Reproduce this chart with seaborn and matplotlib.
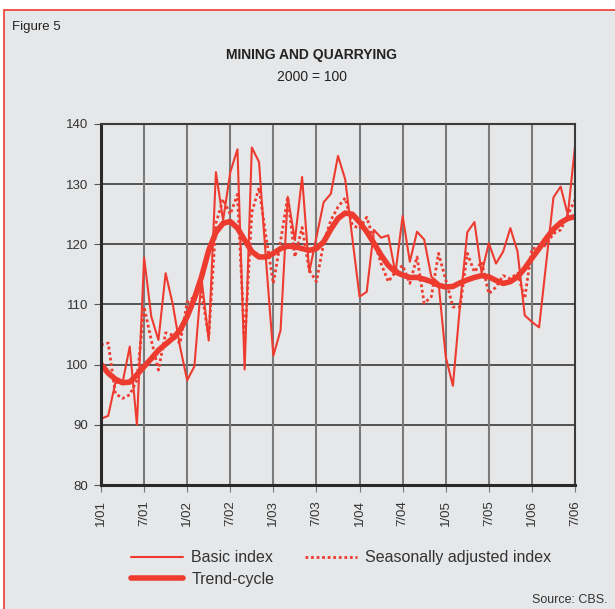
import numpy as np
import pandas as pd
import seaborn as sns
import matplotlib.pyplot as plt
from matplotlib.patches import Rectangle

# monthly values, 1/01 .. 7/06
basic_index = [91, 91.5, 97, 97, 103, 90, 117.8, 108, 104.1, 115.2, 110, 103,
               97.4, 99.7, 114.3, 104, 132, 124, 132, 135.8, 99.2, 136.1, 133.7, 117,
               101.5, 105.7, 127.9, 120.7, 131.2, 115.4, 121.2, 127, 128.4, 134.7, 130.8, 121,
               111.3, 112.1, 122.4, 121.1, 121.5, 115.2, 124.7, 117.1, 122.1, 120.8, 114.6, 113.6,
               101.3, 96.5, 110, 122, 123.7, 115.2, 120.2, 116.8, 118.8, 122.7, 118.8, 108.2,
               107.1, 106.2, 117, 127.8, 129.6, 124.9, 136.3]
seas_adj = [103.3, 103.6, 95.2, 94.4, 95, 97.4, 109.6, 104.1, 99.1, 105.3, 104.9, 103.5,
            110.4, 111.3, 112.1, 104.6, 123.5, 127.5, 125, 128.3, 103.5, 125.3, 129.4, 121,
            113.5, 120.5, 127.9, 117.9, 122.8, 115.7, 113.8, 120.2, 124, 126.2, 127.7, 123.2,
            122.6, 124.5, 120.7, 116.8, 113.8, 115.4, 116.5, 113.5, 117.9, 110.2, 111.3, 118.5,
            114.1, 109.6, 109.6, 118.5, 115.4, 117.1, 111.8, 112.9, 114.8, 114.3, 115.2, 111,
            119.3, 119.4, 119.9, 121.8, 122.4, 124.9, 127.4]
trend = [100.1, 98.6, 97.6, 97, 97.1, 98.3, 99.7, 101, 102.4, 103.4, 104.4, 105.7,
         108, 111, 114.6, 119, 122, 123.5, 123.8, 122.7, 120.7, 118.8, 117.9, 117.9,
         118.5, 119.3, 119.7, 119.6, 119.3, 119, 119.3, 120.4, 122.5, 124.3, 125.2, 125,
         123.7, 122.1, 120.2, 118.2, 116.5, 115.4, 114.9, 114.5, 114.5, 114.2, 113.8, 113.2,
         112.9, 113, 113.6, 114.1, 114.5, 114.8, 114.6, 114, 113.5, 113.8, 114.6, 116,
         117.7, 119.3, 121, 122.5, 123.6, 124.3, 124.6]
tick_labels = ["1/01", "7/01", "1/02", "7/02", "1/03", "7/03",
               "1/04", "7/04", "1/05", "7/05", "1/06", "7/06"]

df = pd.DataFrame({"month": np.arange(len(basic_index)),
                   "basic": basic_index, "seas": seas_adj, "trend": trend})

red = "#ee3b2f"
bg = "#e6e7e9"

sns.set_style("white")
plt.rcParams["font.family"] = ["Liberation Sans", "DejaVu Sans"]

fig = plt.figure(figsize=(6.15, 6.09), dpi=100, facecolor="white")
fig.patches.append(Rectangle((4 / 615, -0.05), 1.1, 1 - 10 / 609 + 0.05,
                             transform=fig.transFigure, facecolor=bg,
                             edgecolor=red, linewidth=1.2, zorder=-10))

ax = fig.add_axes([101 / 615, 1 - 485 / 609, 474 / 615, 361 / 609])
ax.set_facecolor(bg)

sns.lineplot(data=df, x="month", y="basic", ax=ax, color=red, lw=1.5,
             label="Basic index")
sns.lineplot(data=df, x="month", y="trend", ax=ax, color=red, lw=4,
             label="Trend-cycle")
sns.lineplot(data=df, x="month", y="seas", ax=ax, color=red, lw=2,
             linestyle=(0, (1, 1)), label="Seasonally adjusted index")

ax.set_xlim(0, 66)
ax.set_ylim(80, 140)
ax.set_xticks(np.arange(0, 67, 6))
ax.set_xticklabels(tick_labels, rotation=90, fontsize=9.5, color="#333333")
ax.set_yticks(np.arange(80, 141, 10))
ax.tick_params(axis="y", labelsize=9.5, labelcolor="#333333", length=5,
               color="#555555", direction="out", left=True, pad=4)
ax.tick_params(axis="x", length=5, color="#777777", direction="out", bottom=True, pad=6)
ax.set_xlabel("")
ax.set_ylabel("")

for y in np.arange(90, 140, 10):
    ax.axhline(y, color="#3a3a3a", lw=1.2, zorder=1)
for x in np.arange(6, 66, 6):
    ax.axvline(x, color="#7a7a7a", lw=1.5, zorder=1)

for side in ["top", "right"]:
    ax.spines[side].set_visible(True)
    ax.spines[side].set_color("#3a3a3a")
    ax.spines[side].set_linewidth(1.5)
for side in ["left", "bottom"]:
    ax.spines[side].set_color("#2a2a2a")
    ax.spines[side].set_linewidth(2.2)

ax.legend_.remove()
handles, labels = ax.get_legend_handles_labels()
fig.legend(handles, labels, ncol=2, loc="upper left",
           bbox_to_anchor=(117 / 615, 1 - 536 / 609), frameon=False,
           fontsize=11.5, handlelength=3.25, columnspacing=1.9, labelspacing=0.4,
           handletextpad=0.5, labelcolor="#333333")

fig.text(12 / 615, 1 - 27 / 609, "Figure 5", fontsize=9.5, va="center", color="#222222")
fig.text(312 / 615, 1 - 55 / 609, "MINING AND QUARRYING", fontsize=10,
         fontweight="bold", ha="center", va="center", color="#222222")
fig.text(312 / 615, 1 - 77 / 609, "2000 = 100", fontsize=10,
         ha="center", va="center", color="#222222")
fig.text(608 / 615, 1 - 600 / 609, "Source: CBS.", fontsize=9,
         ha="right", va="center", color="#333333")

fig.savefig("out.png", dpi=100, facecolor=fig.get_facecolor())
